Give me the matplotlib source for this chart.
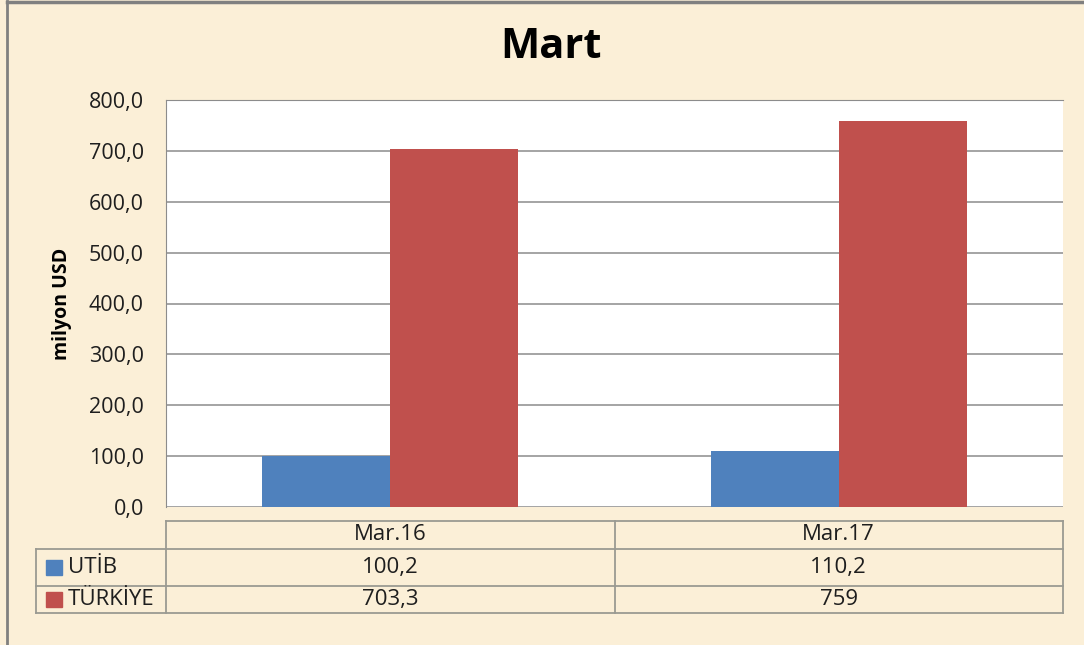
import matplotlib
matplotlib.use("Agg")
import matplotlib.pyplot as plt
from matplotlib.lines import Line2D
from matplotlib.patches import Rectangle
import numpy as np

categories = ["Mar.16", "Mar.17"]
series_names = ["UTİB", "TÜRKİYE"]
utib = [100.2, 110.2]
turkiye = [703.3, 759]
yticks = [0, 100, 200, 300, 400, 500, 600, 700, 800]
title = "Mart"
ylabel = "milyon USD"

colors = ["#4F81BD", "#C0504D"]
bg = "#FBEFD7"
FONT = ["Open Sans", "DejaVu Sans"]

W, H = 1084, 645
fig = plt.figure(figsize=(W / 100, H / 100), dpi=100, facecolor=bg)

# overlay axes in pixel coordinates
ov = fig.add_axes([0, 0, 1, 1], zorder=0)
ov.set_xlim(0, W)
ov.set_ylim(H, 0)
ov.axis("off")
ov.set_facecolor(bg)

def px(x0, y0, x1, y1):
    return [x0 / W, 1 - y1 / H, (x1 - x0) / W, (y1 - y0) / H]

# frame
ov.add_line(Line2D([7, 7], [1, H], color="#808080", lw=2))
ov.add_line(Line2D([7, W], [1.5, 1.5], color="#808080", lw=2.5))

# plot area
L, T, R, B = 166, 100, 1063, 507
ax = fig.add_axes(px(L, T, R, B), zorder=2)
ax.set_facecolor("white")
x = np.arange(len(categories))
bw = 128 / 448
ax.bar(x - bw / 2, utib, bw, color=colors[0], zorder=3)
ax.bar(x + bw / 2, turkiye, bw, color=colors[1], zorder=3)
ax.set_xlim(-0.5, len(categories) - 0.5)
ax.set_ylim(0, 800)
ax.set_yticks(yticks)
ax.set_yticklabels([f"{v:.1f}".replace(".", ",") for v in yticks],
                   fontsize=15.5, family=FONT, color="#1E1E1E")
ax.tick_params(axis="y", length=0, pad=16)
ax.set_xticks([])
ax.yaxis.grid(True, color="#8C8C8C", lw=1.1, zorder=1)
ax.set_axisbelow(True)
for s in ["right", "bottom"]:
    ax.spines[s].set_visible(False)
ax.spines["left"].set_color("#8C8C8C")
ax.spines["top"].set_color("#8C8C8C")
ax.set_ylabel(ylabel, fontsize=14, fontweight="bold", family=FONT, labelpad=12)

# title
ov.text((L + R) / 2 - 64, 47, title, fontsize=30, fontweight="bold",
        family=FONT, ha="center", va="center", color="black")

# data table
tc = "#9A9A92"
row_y = [521, 549, 586, 613]
leg_x = 36
col_x = [L + i * (R - L) / len(categories) for i in range(len(categories) + 1)]
ov.add_line(Line2D([L, R], [row_y[0], row_y[0]], color=tc, lw=1.3))
for yy in row_y[1:]:
    ov.add_line(Line2D([leg_x, R], [yy, yy], color=tc, lw=1.3))
ov.add_line(Line2D([leg_x, leg_x], [row_y[1], row_y[3]], color=tc, lw=1.3))
for xx in col_x:
    ov.add_line(Line2D([xx, xx], [row_y[0], row_y[3]], color=tc, lw=1.3))

def fmt(v):
    return f"{v:g}".replace(".", ",")

TFS = 16
for i, c in enumerate(categories):
    cx = (col_x[i] + col_x[i + 1]) / 2
    ov.text(cx, (row_y[0] + row_y[1]) / 2, c, fontsize=TFS, family=FONT,
            ha="center", va="center", color="#1E1E1E")
    for j, vals in enumerate([utib, turkiye]):
        ov.text(cx, (row_y[j + 1] + row_y[j + 2]) / 2, fmt(vals[i]), fontsize=TFS,
                family=FONT, ha="center", va="center", color="#1E1E1E")

for j, name in enumerate(series_names):
    yc = (row_y[j + 1] + row_y[j + 2]) / 2
    ov.add_patch(Rectangle((46, yc - 7.5), 16, 15, color=colors[j]))
    ov.text(68, yc, name, fontsize=TFS, family=FONT, ha="left", va="center",
            color="#1E1E1E")

fig.savefig("out.png", dpi=100, facecolor=bg)
